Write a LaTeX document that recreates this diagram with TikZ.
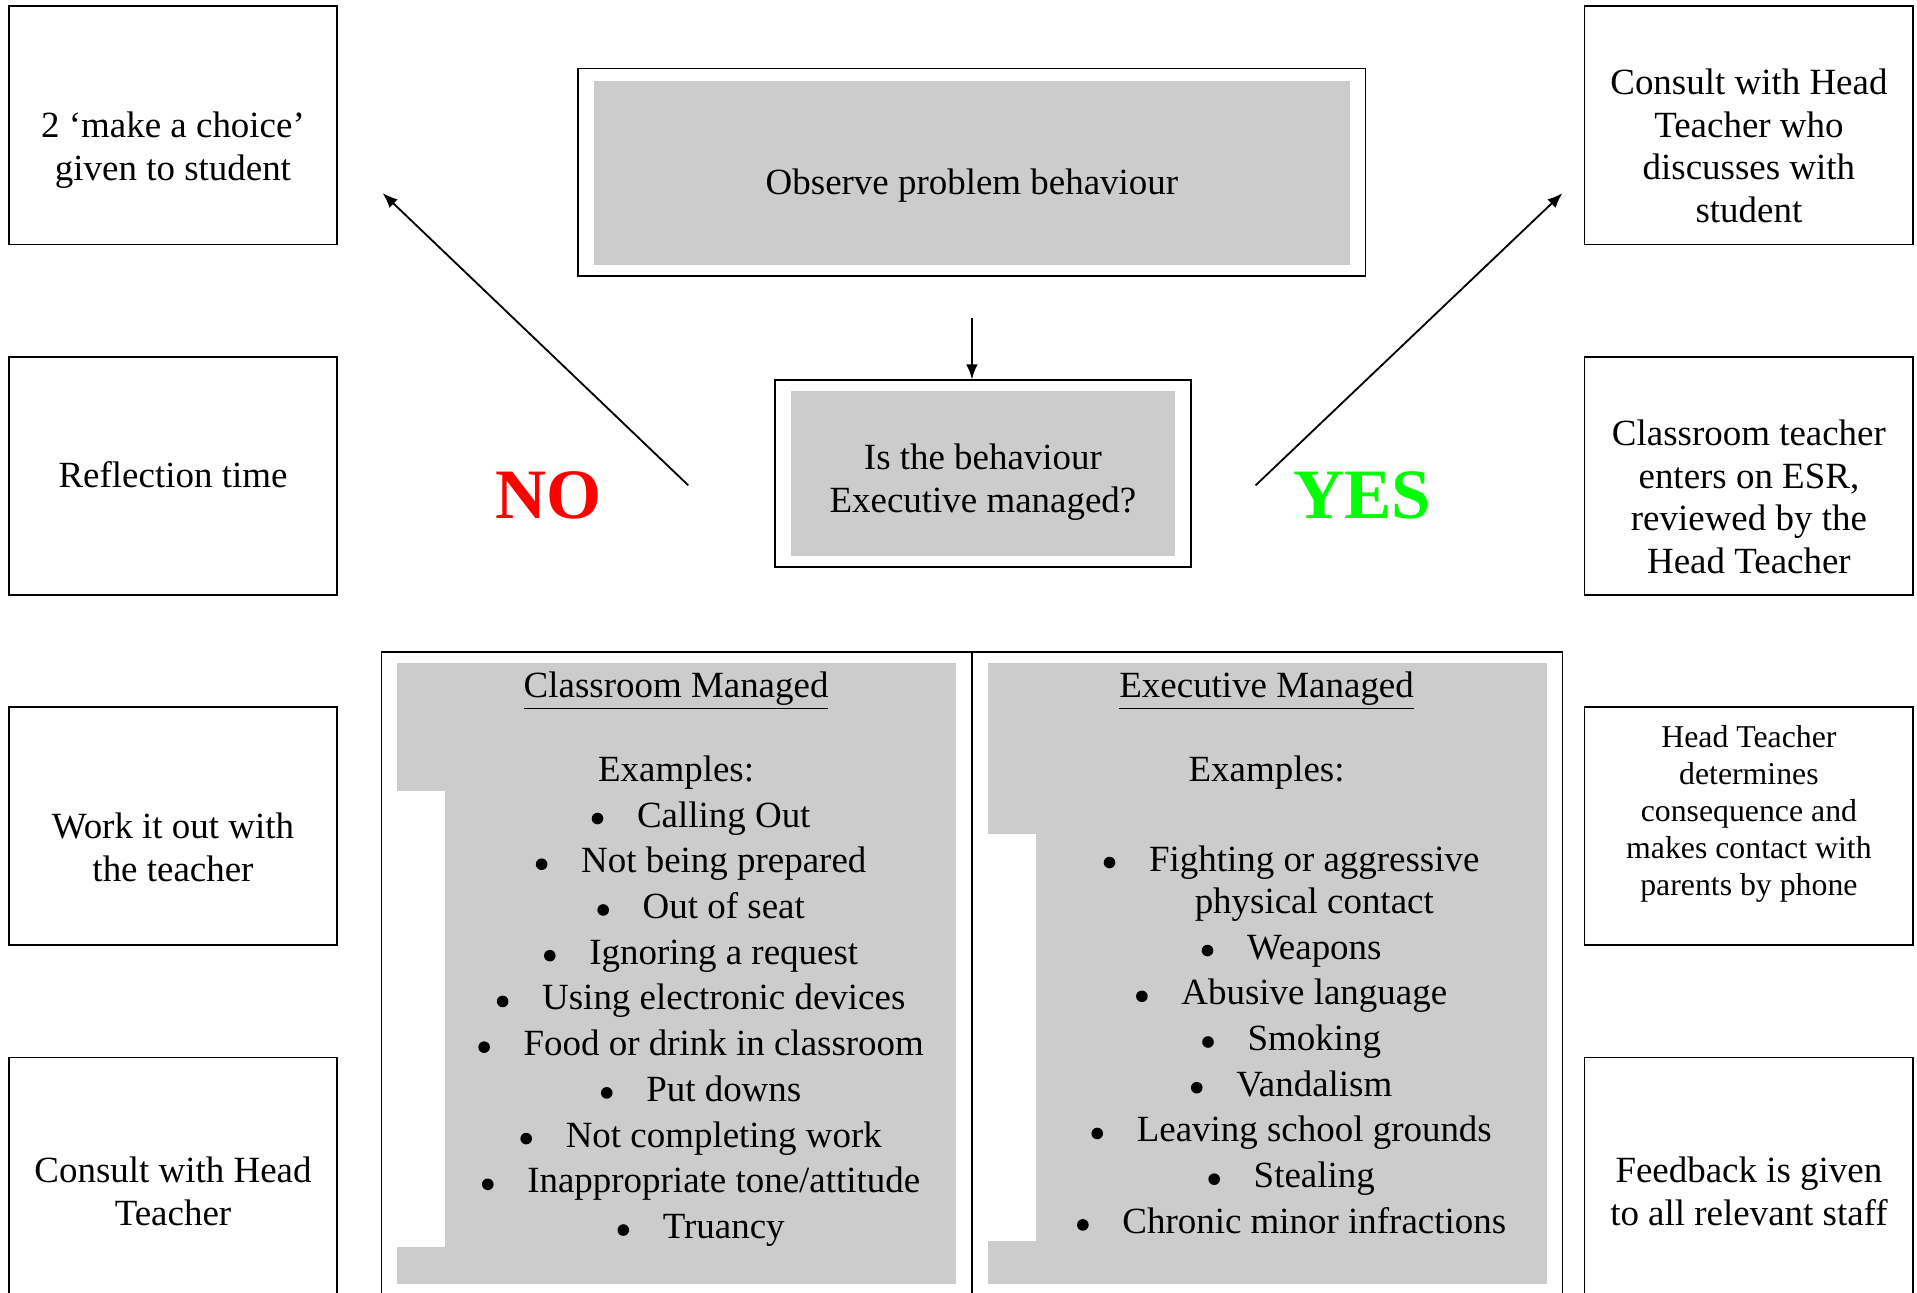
\documentclass[tikz,border=0pt]{standalone}
\usepackage{fontspec}
\setmainfont{Liberation Serif}
\usetikzlibrary{arrows.meta}
\definecolor{boxgray}{RGB}{204,204,204}
\definecolor{nored}{RGB}{255,0,0}
\definecolor{yesgreen}{RGB}{0,255,0}

\begin{document}
\begin{tikzpicture}[
    x=0.02cm, y=-0.02cm,
    every node/.style={font=\fontsize{17.2}{19.8}\selectfont},
    sidebox/.style={draw, line width=0.85pt, minimum width=5.38cm, minimum height=3.9cm, inner sep=0pt},
    boxtext/.style={align=center, inner sep=0pt},
    smalltext/.style={boxtext, font=\fontsize{14.8}{17.2}\selectfont},
    outerbox/.style={draw, line width=0.85pt, inner sep=0pt},
    graybox/.style={fill=boxgray, inner sep=0pt},
    item/.style={inner sep=0pt, text height=0.7em, text depth=0.25em, yshift=-0.13cm},
    dot/.style={circle, fill, inner sep=0pt, minimum size=0.19cm, yshift=0.06cm},
    answer/.style={font=\fontsize{33}{38}\selectfont\bfseries},
    flow/.style={line width=0.85pt, -{Latex[length=7pt,width=5.5pt]}},
  ]
  \useasboundingbox (0,0) rectangle (1568,1057);

  \foreach \y/\name in {102.5/l1, 389.5/l2, 675.5/l3, 962.5/l4}
    \node[sidebox] (\name) at (141.5,\y) {};
  \foreach \y/\name in {102.5/r1, 389.5/r2, 675.5/r3, 962.5/r4}
    \node[sidebox] (\name) at (1430.5,\y) {};

  \node[boxtext] (l1text) at (141.5,123) {2 ‘make a choice’\\given to student};
  \node[boxtext] (l2text) at (141.5,388) {Reflection time};
  \node[boxtext] (l3text) at (141.5,693) {Work it out with\\the teacher};
  \node[boxtext] (l4text) at (141.5,974.5) {Consult with Head\\Teacher};

  \node[boxtext] (r1text) at (1430.5,119.5) {Consult with Head\\Teacher who\\discusses with\\student};
  \node[boxtext] (r2text) at (1430.5,406.5) {Classroom teacher\\enters on ESR,\\reviewed by the\\Head Teacher};
  \node[smalltext] (r3text) at (1430.5,665.5) {Head Teacher\\determines\\consequence and\\makes contact with\\parents by phone};
  \node[boxtext] (r4text) at (1430.5,974.5) {Feedback is given\\to all relevant staff};

  \node[outerbox, minimum width=12.88cm, minimum height=3.4cm] (observe) at (795,141) {};
  \node[graybox, minimum width=12.36cm, minimum height=3.02cm] (observefill) at (795,141.5) {};
  \node[boxtext] (observetext) at (795,152) {Observe problem behaviour};

  \node[outerbox, minimum width=6.8cm, minimum height=3.06cm] (question) at (804,387.5) {};
  \node[graybox, minimum width=6.28cm, minimum height=2.7cm] (questionfill) at (804,387.5) {};
  \node[boxtext] (questiontext) at (804,394.5) {Is the behaviour\\Executive managed?};

  \node[answer, text=nored] (no) at (449,405) {NO};
  \node[answer, text=yesgreen] (yes) at (1114,405) {YES};

  \coordinate (obsout) at (795,260);
  \coordinate (nofrom) at (563,397);
  \coordinate (noto) at (313,158);
  \coordinate (yesfrom) at (1027,397);
  \coordinate (yesto) at (1278,158);
  \draw[flow] (obsout) -- (obsout |- question.north);
  \draw[flow] (nofrom) -- (noto);
  \draw[flow] (yesfrom) -- (yesto);

  \draw[line width=0.85pt] (312,1070) |- (1278,533) -- (1278,1070);
  \draw[line width=0.85pt] (795,533) -- (795,1070);
  \fill[boxgray] (325,542) rectangle (782,1050);
  \fill[white] (325,647) rectangle (364,1020);
  \fill[boxgray] (808,542) rectangle (1265,1050);
  \fill[white] (808,682) rectangle (847,1015);

  \node[item] (cmhead) at (553,560) {\underline{Classroom Managed}};
  \node[item] (cmex) at (553,629) {Examples:};
  \foreach \t [count=\i] in {Calling Out, Not being prepared, Out of seat, Ignoring a request,
      Using electronic devices, Food or drink in classroom, Put downs, Not completing work,
      Inappropriate tone/attitude, Truancy}
  {
    \node[item] (cm\i) at (592,628.6+37.4*\i) {\t};
    \node[dot] (cmdot\i) at ([xshift=-0.64cm]cm\i.west) {};
  }

  \node[item] (emhead) at (1036,560) {\underline{Executive Managed}};
  \node[item] (emex) at (1036,629) {Examples:};
  \node[item] (em1) at (1075,702) {Fighting or aggressive};
  \node[dot] (emdot1) at ([xshift=-0.64cm]em1.west) {};
  \node[item] (em1b) at (1075,737) {physical contact};
  \foreach \t [count=\i from 2] in {Weapons, Abusive language, Smoking, Vandalism,
      Leaving school grounds, Stealing, Chronic minor infractions}
  {
    \node[item] (em\i) at (1075,699.2+37.4*\i) {\t};
    \node[dot] (emdot\i) at ([xshift=-0.64cm]em\i.west) {};
  }
\end{tikzpicture}
\end{document}
